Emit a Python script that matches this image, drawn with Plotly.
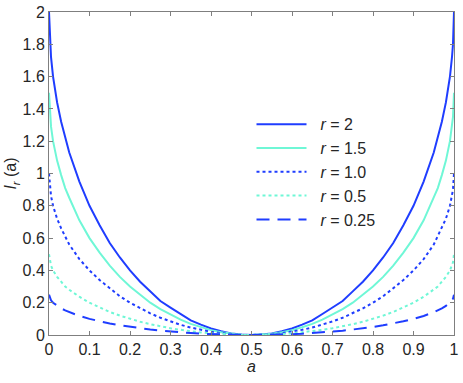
import plotly.graph_objects as go

# a values (dense near the two ends)
a_vals = [0, 0.0025, 0.005, 0.01, 0.02, 0.03, 0.04, 0.05, 0.075, 0.1, 0.125, 0.15, 0.175,
          0.2, 0.225, 0.25, 0.275, 0.3, 0.325, 0.35, 0.375, 0.4, 0.425, 0.45, 0.475, 0.5,
          0.525, 0.55, 0.575, 0.6, 0.625, 0.65, 0.675, 0.7, 0.725, 0.75, 0.775, 0.8, 0.825,
          0.85, 0.875, 0.9, 0.925, 0.95, 0.96, 0.97, 0.98, 0.99, 0.995, 0.9975, 1]

# values
i_r2 = [2.0, 1.80, 1.72, 1.60, 1.44, 1.32, 1.22, 1.13, 0.95, 0.80, 0.68, 0.57, 0.48,
        0.40, 0.33, 0.27, 0.21, 0.17, 0.13, 0.09, 0.064, 0.04, 0.023, 0.01, 0.003, 0.0,
        0.003, 0.01, 0.023, 0.04, 0.064, 0.09, 0.13, 0.17, 0.21, 0.27, 0.33, 0.40, 0.48,
        0.57, 0.68, 0.80, 0.95, 1.13, 1.22, 1.32, 1.44, 1.60, 1.72, 1.80, 2.0]
i_r15 = [1.5, 1.35, 1.29, 1.20, 1.08, 0.99, 0.91, 0.85, 0.71, 0.60, 0.51, 0.43, 0.36,
         0.30, 0.25, 0.20, 0.16, 0.125, 0.095, 0.069, 0.048, 0.03, 0.017, 0.008, 0.002, 0.0,
         0.002, 0.008, 0.017, 0.03, 0.048, 0.069, 0.095, 0.125, 0.16, 0.20, 0.25, 0.30, 0.36,
         0.43, 0.51, 0.60, 0.71, 0.85, 0.91, 0.99, 1.08, 1.20, 1.29, 1.35, 1.5]
i_r10 = [1.0, 0.90, 0.86, 0.80, 0.72, 0.66, 0.61, 0.56, 0.47, 0.40, 0.34, 0.29, 0.24,
         0.20, 0.165, 0.134, 0.107, 0.084, 0.063, 0.046, 0.032, 0.02, 0.011, 0.005, 0.001, 0.0,
         0.001, 0.005, 0.011, 0.02, 0.032, 0.046, 0.063, 0.084, 0.107, 0.134, 0.165, 0.20, 0.24,
         0.29, 0.34, 0.40, 0.47, 0.56, 0.61, 0.66, 0.72, 0.80, 0.86, 0.90, 1.0]
i_r05 = [0.5, 0.45, 0.43, 0.40, 0.36, 0.33, 0.30, 0.28, 0.237, 0.20, 0.17, 0.143, 0.12,
         0.10, 0.082, 0.067, 0.053, 0.042, 0.032, 0.023, 0.016, 0.01, 0.006, 0.0025, 0.001, 0.0,
         0.001, 0.0025, 0.006, 0.01, 0.016, 0.023, 0.032, 0.042, 0.053, 0.067, 0.082, 0.10, 0.12,
         0.143, 0.17, 0.20, 0.237, 0.28, 0.30, 0.33, 0.36, 0.40, 0.43, 0.45, 0.5]
i_r025 = [0.25, 0.225, 0.215, 0.20, 0.18, 0.165, 0.152, 0.141, 0.118, 0.10, 0.085, 0.071, 0.06,
          0.05, 0.041, 0.034, 0.027, 0.021, 0.016, 0.012, 0.008, 0.005, 0.003, 0.001, 0.0003, 0.0,
          0.0003, 0.001, 0.003, 0.005, 0.008, 0.012, 0.016, 0.021, 0.027, 0.034, 0.041, 0.05, 0.06,
          0.071, 0.085, 0.10, 0.118, 0.141, 0.152, 0.165, 0.18, 0.20, 0.215, 0.225, 0.25]

x_ticks = [0, 0.1, 0.2, 0.3, 0.4, 0.5, 0.6, 0.7, 0.8, 0.9, 1]
y_ticks = [0, 0.2, 0.4, 0.6, 0.8, 1, 1.2, 1.4, 1.6, 1.8, 2]

BLUE = "#1f3dff"
CYAN = "#6ff7d6"
FONT = "Liberation Sans, Arial, sans-serif"
PAD = "\u00a0\u00a0"

series = [
    (PAD + "<i>r</i> = 2", i_r2, BLUE, "solid"),
    (PAD + "<i>r</i> = 1.5", i_r15, CYAN, "solid"),
    (PAD + "<i>r</i> = 1.0", i_r10, BLUE, "dot"),
    (PAD + "<i>r</i> = 0.5", i_r05, CYAN, "dot"),
    (PAD + "<i>r</i> = 0.25", i_r025, BLUE, "13px,8px"),
]

fig = go.Figure()
for name, vals, color, dash in series:
    fig.add_trace(go.Scatter(
        x=a_vals, y=vals, name=name, mode="lines",
        line={"color": color, "width": 2, "dash": dash},
    ))

axis_common = dict(
    showline=True, linecolor="#7f7f7f", linewidth=1, mirror="ticks",
    ticks="inside", ticklen=4, tickcolor="#7f7f7f", showgrid=False, zeroline=False,
    ticklabeloverflow="allow",
    tickfont={"size": 16, "family": FONT, "color": "#262626"},
)

fig.update_layout(
    width=463, height=383,
    paper_bgcolor="white", plot_bgcolor="white",
    margin={"l": 49, "r": 4, "t": 11, "b": 48},
    font={"family": FONT, "color": "#262626"},
    xaxis=dict(axis_common, range=[0, 1], tickvals=x_ticks,
               ticktext=[f"{t:g}" for t in x_ticks],
               title={"text": "<i>a</i>", "font": {"size": 16}, "standoff": 3}),
    yaxis=dict(axis_common, range=[0, 2], tickvals=y_ticks,
               ticktext=[f"{t:g}" for t in y_ticks],
               title={"text": "<i>I<sub>r</sub></i> (a)", "font": {"size": 16}, "standoff": 1}),
    legend={"x": 0.5, "y": 0.705, "xanchor": "left", "yanchor": "top",
            "bgcolor": "rgba(0,0,0,0)", "font": {"size": 16, "family": FONT},
            "itemwidth": 50, "tracegroupgap": 0},
    showlegend=True,
)

fig.write_html("out.html", config={"displayModeBar": False},
               post_script="document.body.style.margin='0px';")
